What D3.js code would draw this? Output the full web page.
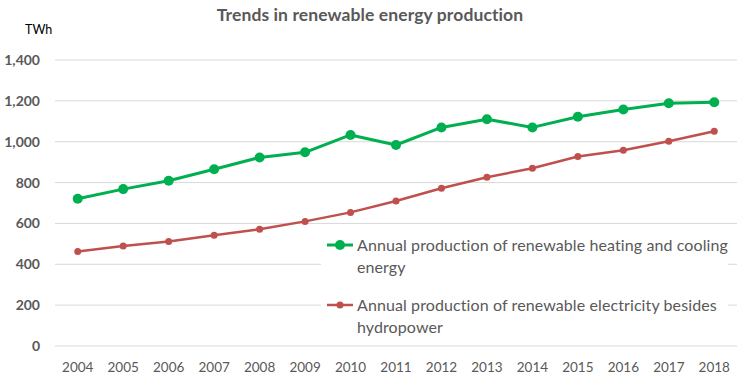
<!DOCTYPE html>
<html>
<head>
<meta charset="utf-8">
<script src="https://cdn.jsdelivr.net/npm/d3@7"></script>
<style>
  body { margin: 0; background: #fff; }
  svg { display: block; font-family: Lato, "Liberation Sans", Arial, sans-serif; }
</style>
</head>
<body>
<svg id="chart" width="747" height="389"></svg>
<script>
var years = ["2004","2005","2006","2007","2008","2009","2010","2011","2012","2013","2014","2015","2016","2017","2018"];
var heating = [721, 768, 809, 865, 923, 948, 1033, 984, 1070, 1110, 1070, 1122, 1158, 1188, 1193];
var electricity = [463, 489, 512, 542, 571, 610, 654, 710, 772, 826, 870, 928, 958, 1002, 1051];
var yTicks = [0, 200, 400, 600, 800, 1000, 1200, 1400];
var seriesNames = [
    ["Annual production of renewable heating and cooling", "energy"],
    ["Annual production of renewable electricity besides", "hydropower"]
];

var svg = d3.select("#chart");
var plotLeft = 55, plotRight = 737, plotTop = 60, plotBottom = 346;

var x = d3.scaleBand().domain(years).range([plotLeft, plotRight]);
var y = d3.scaleLinear().domain([0, 1400]).range([plotBottom, plotTop]);

// title
svg.append("text")
    .attr("x", 370).attr("y", 21)
    .attr("text-anchor", "middle")
    .style("font-size", "17.5px").style("font-weight", "bold")
    .style("letter-spacing", "0.1px")
    .attr("fill", "#595959")
    .text("Trends in renewable energy production");

svg.append("text")
    .attr("x", 25).attr("y", 34)
    .style("font-size", "12.5px")
    .attr("fill", "#000")
    .text("TWh");

// grid
svg.append("g").selectAll("line")
    .data(yTicks).enter().append("line")
    .attr("x1", plotLeft).attr("x2", plotRight)
    .attr("y1", function (d) { return y(d); })
    .attr("y2", function (d) { return y(d); })
    .attr("stroke", "#d9d9d9").attr("stroke-width", 1);

// y axis
var yAxis = svg.append("g")
    .attr("transform", "translate(40,0)")
    .call(d3.axisLeft(y).tickValues(yTicks).tickSize(0).tickPadding(0).tickFormat(d3.format(",")));
yAxis.select(".domain").remove();
yAxis.selectAll("text")
    .style("font-size", "14px").style("font-weight", "bold")
    .style("font-family", "Lato, 'Liberation Sans', Arial, sans-serif")
    .attr("fill", "#595959");

// x axis
var xAxis = svg.append("g")
    .attr("transform", "translate(0," + plotBottom + ")")
    .call(d3.axisBottom(x).tickSize(0).tickPadding(0));
xAxis.select(".domain").remove();
xAxis.selectAll("text")
    .attr("y", 26).attr("dy", null)
    .style("font-size", "13.5px")
    .style("font-family", "Lato, 'Liberation Sans', Arial, sans-serif")
    .attr("fill", "#595959");

var cx = function (d, i) { return x(years[i]) + x.bandwidth() / 2; };
var line = d3.line().x(cx).y(function (d) { return y(d); });

function drawSeries(values, color, width, r) {
    svg.append("path").datum(values)
        .attr("d", line)
        .attr("fill", "none")
        .attr("stroke", color)
        .attr("stroke-width", width)
        .attr("stroke-linejoin", "round");
    svg.append("g").selectAll("circle")
        .data(values).enter().append("circle")
        .attr("cx", cx)
        .attr("cy", function (d) { return y(d); })
        .attr("r", r)
        .attr("fill", color);
}
drawSeries(electricity, "#c0504d", 2.5, 3.5);
drawSeries(heating, "#00b050", 3, 5);

// legend
var legend = svg.append("g");
legend.append("rect")
    .attr("x", 321).attr("y", 231).attr("width", 407).attr("height", 108)
    .attr("fill", "#fff");
var legendItems = [
    { names: seriesNames[0], color: "#00b050", w: 3, r: 5, y: 245 },
    { names: seriesNames[1], color: "#c0504d", w: 2.5, r: 3.5, y: 305 }
];
legendItems.forEach(function (it) {
    legend.append("line")
        .attr("x1", 327).attr("x2", 353)
        .attr("y1", it.y).attr("y2", it.y)
        .attr("stroke", it.color).attr("stroke-width", it.w);
    legend.append("circle")
        .attr("cx", 340).attr("cy", it.y).attr("r", it.r)
        .attr("fill", it.color);
    it.names.forEach(function (t, k) {
        legend.append("text")
            .attr("x", 357).attr("y", it.y + 6 + k * 22)
            .style("font-size", "16px")
            .style("letter-spacing", "0.1px")
            .attr("fill", "#595959")
            .text(t);
    });
});
</script>
</body>
</html>
